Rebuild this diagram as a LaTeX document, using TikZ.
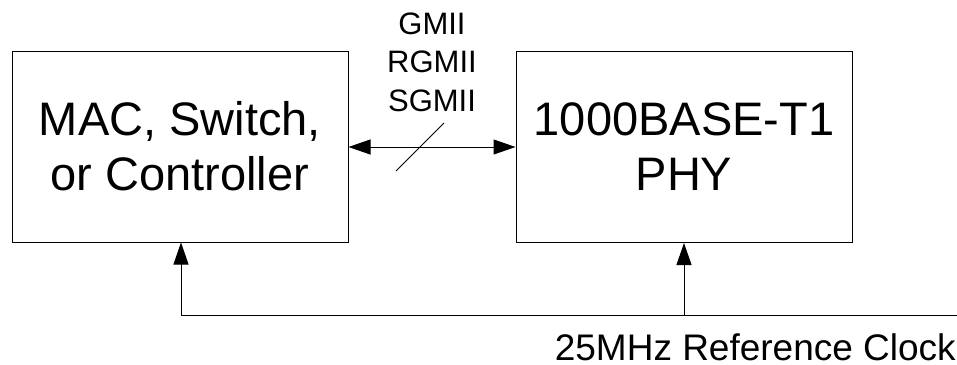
\documentclass[tikz,border=0pt]{standalone}
\usepackage{fontspec}
\setmainfont{Liberation Sans}
\usetikzlibrary{arrows.meta}
\begin{document}
\begin{tikzpicture}[x=1pt,y=-1pt,
  blk/.style={draw=black,line width=1pt,minimum width=336pt,minimum height=191pt,inner sep=0pt,align=center,font=\fontsize{47pt}{55pt}\selectfont},
  lbl/.style={inner sep=0pt,align=center,font=\fontsize{31pt}{38.5pt}\selectfont},
  tip/.tip={Triangle[length=22pt,width=15pt]},
  conn/.style={line width=1pt,-tip},
  wire/.style={line width=1pt}]
\useasboundingbox (0,0) rectangle (957,364);
\node[blk] (mac) at (180,146.5) {MAC, Switch,\\or Controller};
\node[blk] (phy) at (684,147) {1000BASE-T1\\PHY};
\draw[line width=1pt,tip-tip] (mac.east |- 0,147) -- (phy.west |- 0,147);
\coordinate (s1) at (396,171);
\coordinate (s2) at (444,123);
\draw[wire,line width=0.8pt] (s1) -- (s2);
\node[lbl,anchor=base] (bus) at (432,111) {GMII\\RGMII\\SGMII};
\coordinate (cr) at (957,315);
\coordinate (cl) at (181,315);
\coordinate (cm) at (684,315);
\draw[wire] (cl) -- (cr);
\draw[conn] (cl) -- (cl |- mac.south);
\draw[conn] (cm) -- (cm |- phy.south);
\node[anchor=base east,inner sep=0pt,text depth=0pt,font=\fontsize{37pt}{44pt}\selectfont] (clk) at (956,360) {25MHz Reference Clock};
\end{tikzpicture}
\end{document}
